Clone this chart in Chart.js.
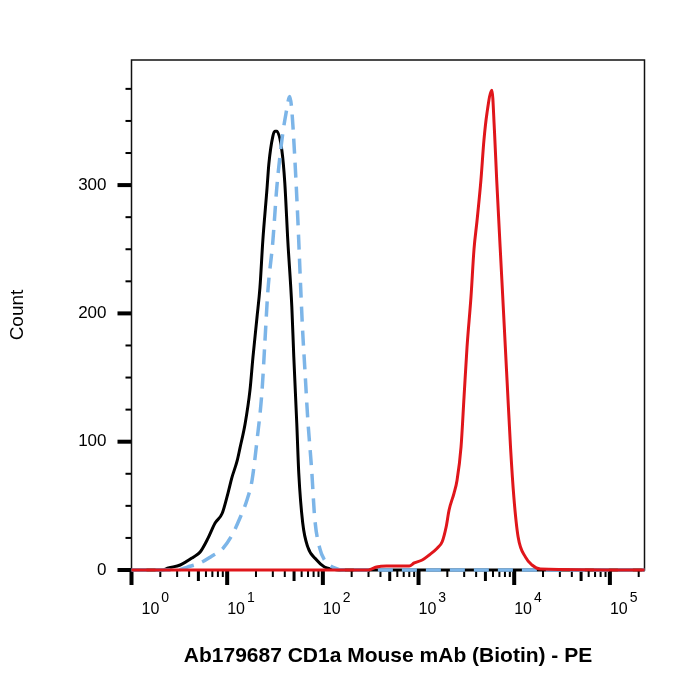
<!DOCTYPE html>
<html>
<head>
<meta charset="utf-8">
<title>CD1a PE histogram</title>
<script src="https://cdn.jsdelivr.net/npm/chart.js@4.4.1/dist/chart.umd.min.js"></script>
<style>
  html, body { margin: 0; padding: 0; background: #fff; }
  #wrap { width: 700px; height: 700px; }
</style>
</head>
<body>
<div id="wrap"><canvas id="histChart" width="700" height="700"></canvas></div>
<script>
// axis ticks
const xDecades = [0, 1, 2, 3, 4, 5];
const yTicks = [0, 100, 200, 300];
const yMinorStep = 25;

// unstained control (black)
const blackX = [1, 2.1, 2.43, 3.23, 4.42, 5.22, 6.33, 7.48, 8.85, 10.2, 11.2, 12.7, 13.6, 15.4, 17.3, 18.6, 20.5, 22.0, 23.6, 26.0, 27.3, 30.0, 31.5, 33.0, 37.3, 40.0, 43.0, 47.4, 49.7, 53.4, 56.0, 61.6, 69.5, 86.1, 104, 124, 150, 230000];
const blackY = [0, 0, 1.6, 3.9, 10, 14, 25, 36.6, 44, 60, 72, 85, 95, 114, 140, 166, 197, 220, 257, 296, 317, 338, 342, 342, 327, 302, 257, 205, 166, 114, 75.6, 36.6, 18, 7.8, 2.3, 0.8, 0, 0];

// isotype control (blue dashed)
const blueX = [1, 3.0, 3.83, 5.22, 6.64, 9.06, 11.2, 13.6, 16.1, 18.2, 20.5, 23.1, 24.8, 26.6, 30.0, 33.0, 37.3, 41.0, 45.1, 47.4, 50.9, 54.7, 58.8, 61.6, 64.7, 69.5, 76.4, 82.2, 92.7, 104, 126, 169, 230000];
const blueY = [0, 0, 2.3, 5.5, 10, 17, 27, 40.5, 54.6, 70, 101, 139, 178, 217, 256, 298, 335, 355, 369, 358, 321, 274, 218, 185, 158, 118, 78, 40.5, 17, 7.8, 2.3, 0, 0];

// CD1a stained (red)
const redX = [1, 300, 363, 461, 800, 902, 1093, 1293, 1566, 1766, 1943, 2086, 2351, 2527, 2782, 2990, 3214, 3535, 3800, 4084, 4491, 4827, 5189, 5846, 6209, 6561, 7430, 8414, 9146, 9910, 10990, 13120, 15350, 18790, 230000];
const redY = [0, 0, 2.3, 3.1, 3.1, 5.5, 7.8, 11.7, 17, 22, 33.5, 46.8, 60, 70, 96, 135, 174, 213, 250, 272, 304, 335, 356, 374, 343, 304, 226, 148, 96, 57, 25.7, 10, 3.9, 0.8, 0];

const FONT = '"Liberation Sans", Arial, sans-serif';

function toPoints(xs, ys) {
    return xs.map((x, i) => ({ x: x, y: ys[i] }));
}

// frame, tick marks of three sizes and 10^n labels
const axisMarks = {
    id: 'axisMarks',
    beforeDatasetsDraw(chart) {
        const { ctx, chartArea: a, scales: { x, y } } = chart;
        ctx.save();
        ctx.fillStyle = '#000';
        for (let v = 0; v <= y.max; v += yMinorStep) {
            const py = y.getPixelForValue(v);
            if (v % 100 === 0) ctx.fillRect(a.left - 14, py - 2, 14, 4);
            else ctx.fillRect(a.left - 6, py - 1, 6, 2);
        }
        xDecades.forEach(k => {
            for (let m = 1; m <= 9; m++) {
                const v = m * Math.pow(10, k);
                if (v > x.max) break;
                const px = x.getPixelForValue(v);
                if (m === 1) ctx.fillRect(px - 2, a.bottom, 4, 15);
                else if (m === 5) ctx.fillRect(px - 1.5, a.bottom, 3, 11);
                else ctx.fillRect(px - 1, a.bottom, 2, 7);
            }
        });
        ctx.strokeStyle = '#111';
        ctx.lineWidth = 1.5;
        ctx.strokeRect(a.left, a.top, a.right - a.left, a.bottom - a.top);
        ctx.restore();
    },
    afterDraw(chart) {
        const { ctx, chartArea: a, scales: { x } } = chart;
        ctx.save();
        ctx.fillStyle = '#000';
        ctx.textAlign = 'left';
        ctx.textBaseline = 'alphabetic';
        x.ticks.forEach(t => {
            const k = Math.round(Math.log10(t.value));
            const px = x.getPixelForValue(t.value) + (k === 0 ? 10 : 0);
            ctx.font = '16px ' + FONT;
            ctx.fillText('10', px, a.bottom + 44);
            const w = ctx.measureText('10').width;
            ctx.font = '14px ' + FONT;
            ctx.fillText(String(k), px + w + 2, a.bottom + 32);
        });
        ctx.restore();
    }
};

new Chart(document.getElementById('histChart'), {
    type: 'line',
    data: {
        datasets: [
            { label: 'CD1a PE', data: toPoints(redX, redY), borderColor: '#e0161b', borderWidth: 3, order: 0, clip: 6 },
            { label: 'Isotype', data: toPoints(blueX, blueY), borderColor: '#7cb5e8', borderWidth: 3.5, borderDash: [15, 9], order: 1, clip: 6 },
            { label: 'Unstained', data: toPoints(blackX, blackY), borderColor: '#000', borderWidth: 3, order: 2, clip: 6 }
        ]
    },
    options: {
        responsive: false,
        animation: false,
        layout: { padding: { left: 0, top: 60, right: 55.5, bottom: 0 } },
        elements: {
            point: { radius: 0 },
            line: { cubicInterpolationMode: 'monotone', fill: false }
        },
        plugins: { legend: { display: false }, tooltip: { enabled: false } },
        scales: {
            x: {
                type: 'logarithmic',
                min: 1,
                max: 230000,
                grid: { display: false, drawTicks: false },
                border: { display: false },
                ticks: { display: false },
                afterBuildTicks: axis => { axis.ticks = xDecades.map(k => ({ value: Math.pow(10, k) })); },
                afterFit: axis => { axis.height = 130; },
                title: {
                    display: true,
                    text: 'Ab179687 CD1a Mouse mAb (Biotin) - PE',
                    color: '#000',
                    font: { family: FONT, size: 21, weight: 'bold' },
                    padding: { top: 0, bottom: 31 }
                }
            },
            y: {
                min: 0,
                max: 397.5,
                grid: { display: false, drawTicks: false },
                border: { display: false },
                ticks: { color: '#000', font: { family: FONT, size: 17 }, padding: 25 },
                afterBuildTicks: axis => { axis.ticks = yTicks.map(v => ({ value: v })); },
                afterFit: axis => { axis.width = 131.5; },
                title: {
                    display: true,
                    text: 'Count',
                    color: '#000',
                    font: { family: FONT, size: 19 },
                    padding: { top: 6, bottom: 0 }
                }
            }
        }
    },
    plugins: [axisMarks]
});
</script>
</body>
</html>
